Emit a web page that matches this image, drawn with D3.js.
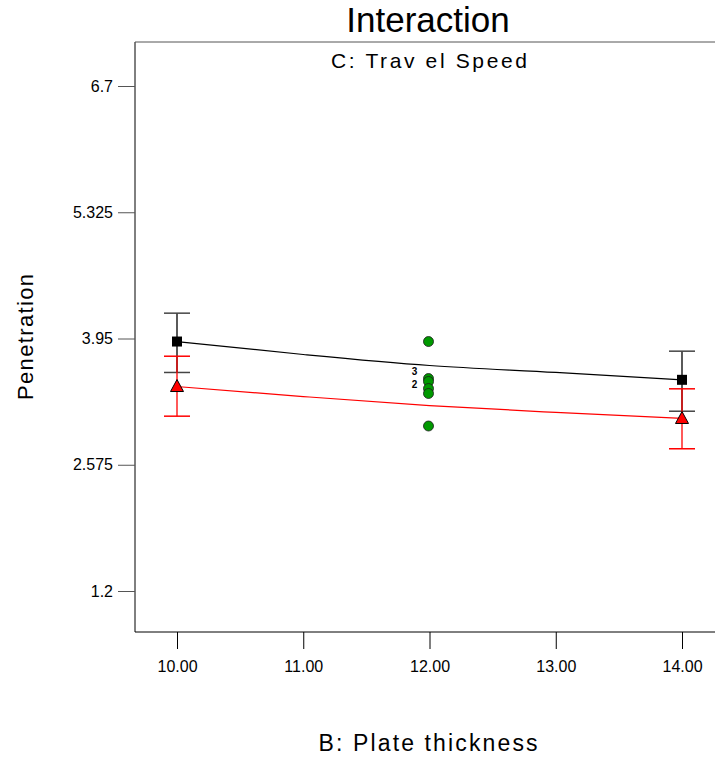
<!DOCTYPE html>
<html><head><meta charset="utf-8">
<script src="https://cdn.jsdelivr.net/npm/d3@7"></script>
<style>body{margin:0;background:#fff}svg{display:block}text{font-family:"Liberation Sans",Arial,sans-serif}</style>
</head><body>
<svg id="c" width="715" height="758"></svg>
<script>
// ---- data ----
const title = "Interaction";
const subtitle = "C: Trav el Speed";
const xLabel = "B: Plate thickness";
const yLabel = "Penetration";
const xTicks = [10, 11, 12, 13, 14];
const yTicks = [1.2, 2.575, 3.95, 5.325, 6.7];
// fitted lines (Travel Speed high = black, low = red), values at B = 10..14
const lineB = [10, 11, 12, 13, 14];
const blackLine = [3.917, 3.776, 3.656, 3.58, 3.50];
const redLine = [3.427, 3.318, 3.22, 3.145, 3.079];
// end points with LSD bars
const endB = [10, 14];
const blackMean = [3.917, 3.50];
const blackLo = [3.58, 3.158];
const blackHi = [4.226, 3.812];
const redMean = [3.427, 3.079];
const redLo = [3.104, 2.749];
const redHi = [3.757, 3.402];
// observed design points (center points)
const obsB = [12, 12, 12, 12, 12, 12];
const obsY = [3.917, 3.514, 3.482, 3.405, 3.351, 2.997];
const countLabels = ["3", "2"];
const countY = [3.60, 3.45];

const svg = d3.select("#c");
const x = d3.scaleLinear().domain([10, 14]).range([177, 682]);
const y = d3.scaleLinear().domain([1.2, 6.7]).range([591, 86]);
const L = 135, T = 42, B = 632, R = 722;

// frame
svg.append("line").attr("x1", L).attr("x2", L).attr("y1", T).attr("y2", B).attr("stroke", "#000");
svg.append("line").attr("x1", L).attr("x2", R).attr("y1", T).attr("y2", T).attr("stroke", "#555");
svg.append("line").attr("x1", L).attr("x2", R).attr("y1", B).attr("y2", B).attr("stroke", "#000");

// axes
const xa = svg.append("g").attr("transform", `translate(0,${B})`)
  .call(d3.axisBottom(x).tickValues(xTicks).tickFormat(d3.format(".2f")).tickSize(17).tickSizeOuter(0));
xa.select(".domain").remove();
xa.selectAll("line").attr("stroke", "#000");
xa.selectAll("text").attr("font-size", 16).attr("fill", "#000").attr("dy", null).attr("y", 40)
  .attr("font-family", '"Liberation Sans",Arial,sans-serif');

const ya = svg.append("g").attr("transform", `translate(${L},0)`)
  .call(d3.axisLeft(y).tickValues(yTicks).tickFormat(d => String(d)).tickSize(17).tickSizeOuter(0));
ya.select(".domain").remove();
ya.selectAll("line").attr("stroke", "#555");
ya.selectAll("text").attr("font-size", 16).attr("fill", "#000").attr("x", -22)
  .attr("font-family", '"Liberation Sans",Arial,sans-serif');

// titles
svg.append("text").attr("x", 428).attr("y", 32).attr("text-anchor", "middle").attr("font-size", 35).text(title);
svg.append("text").attr("x", 429).attr("y", 68).attr("text-anchor", "middle").attr("font-size", 21)
  .attr("textLength", 196).attr("lengthAdjust", "spacing").text(subtitle);
svg.append("text").attr("x", 428).attr("y", 751).attr("text-anchor", "middle").attr("font-size", 23)
  .attr("textLength", 219).attr("lengthAdjust", "spacing").text(xLabel);
svg.append("text").attr("transform", "translate(33,337) rotate(-90)").attr("text-anchor", "middle").attr("font-size", 22)
  .attr("textLength", 126).attr("lengthAdjust", "spacing").text(yLabel);

// lines
const line = d3.line().x(d => x(d[0])).y(d => y(d[1])).curve(d3.curveMonotoneX);
svg.append("path").datum(lineB.map((b, i) => [b, blackLine[i]])).attr("d", line)
  .attr("fill", "none").attr("stroke", "#000").attr("stroke-width", 1.2);
svg.append("path").datum(lineB.map((b, i) => [b, redLine[i]])).attr("d", line)
  .attr("fill", "none").attr("stroke", "#f00").attr("stroke-width", 1.2);

// error bars
function bars(lo, hi, col, capCol) {
  endB.forEach((b, i) => {
    const cx = x(b);
    svg.append("line").attr("x1", cx).attr("x2", cx).attr("y1", y(lo[i])).attr("y2", y(hi[i])).attr("stroke", col).attr("stroke-width", 1.3);
    [lo[i], hi[i]].forEach(v => svg.append("line").attr("x1", cx - 13).attr("x2", cx + 13)
      .attr("y1", y(v)).attr("y2", y(v)).attr("stroke", capCol).attr("stroke-width", 1.5));
  });
}
bars(blackLo, blackHi, "#000", "#444");
bars(redLo, redHi, "#f00", "#f00");

// markers
endB.forEach((b, i) => {
  svg.append("rect").attr("x", x(b) - 5).attr("y", y(blackMean[i]) - 5).attr("width", 10).attr("height", 10)
    .attr("fill", "#000");
  const cx = x(b), cy = y(redMean[i]);
  svg.append("path").attr("d", `M${cx},${cy - 7}L${cx + 6.5},${cy + 5}L${cx - 6.5},${cy + 5}Z`)
    .attr("fill", "#f00").attr("stroke", "#000").attr("stroke-width", 1);
});

// observed points
obsB.forEach((b, i) => {
  svg.append("circle").attr("cx", x(b) - 1).attr("cy", y(obsY[i])).attr("r", 5)
    .attr("fill", "#009900").attr("stroke", "#1a1a1a").attr("stroke-width", 0.8);
});
countLabels.forEach((t, i) => {
  svg.append("text").attr("x", x(12) - 15).attr("y", y(countY[i]) + 4).attr("text-anchor", "middle")
    .attr("font-size", 10).attr("font-weight", "bold").text(t);
});
</script>
</body></html>
